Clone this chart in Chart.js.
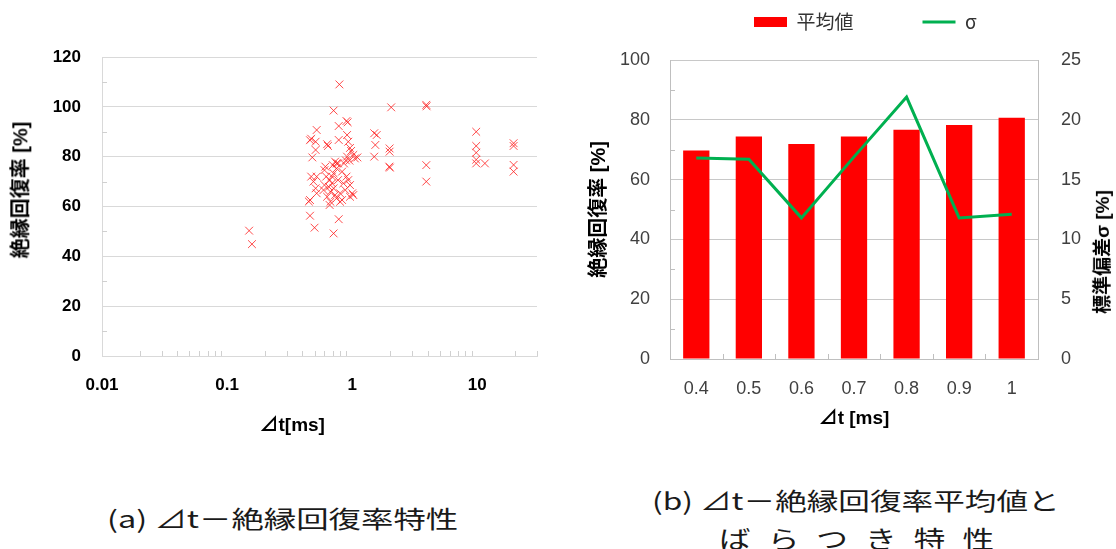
<!DOCTYPE html>
<html><head><meta charset="utf-8">
<script src="https://cdn.jsdelivr.net/npm/chart.js@4.4.1/dist/chart.umd.min.js"></script>
<style>
html,body{margin:0;padding:0;background:#fff;width:1116px;height:549px;overflow:hidden;position:relative}
canvas{position:absolute;top:0}
#cA{left:0}
#cB{left:560px}
.cap{position:absolute;white-space:nowrap;font-family:'Noto Sans CJK JP',sans-serif;font-size:24px;line-height:24px;color:#1a1a1a;transform-origin:0 50%}
.axt{position:absolute;white-space:nowrap;font-family:'Liberation Sans','Noto Sans CJK JP',sans-serif;font-weight:bold;line-height:22px;color:#000;transform-origin:50% 50%}
</style></head><body>
<canvas id="cA" width="560" height="445"></canvas>
<canvas id="cB" width="556" height="445"></canvas>
<div class="axt" id="yATitle" style="font-size:20px">絶縁回復率 [%]</div>
<div class="axt" id="xATitle" style="font-size:19px">⊿t[ms]</div>
<div class="axt" id="y1Title" style="font-size:19px">標準偏差σ [%]</div>
<div class="cap" id="capA">(a) ⊿t－絶縁回復率特性</div>
<div class="cap" id="capB1">(b) ⊿t－絶縁回復率平均値と</div>
<div class="cap" id="capB2">ばらつき特性</div>
<script>
// ---------- data: chart (a) ----------
const scatterX = [0.15,0.158,0.79,0.71,2.05,3.91,3.93,0.90,0.92,0.78,0.52,0.47,0.46,0.51,0.63,0.64,0.78,0.91,0.93,0.51,0.48,0.96,0.98,1.1,0.91,0.89,0.73,0.75,0.70,0.77,0.61,0.60,1.50,1.57,1.53,1.50,1.99,1.99,1.98,2.00,3.91,3.91,0.47,0.52,0.49,0.51,0.52,0.46,0.45,0.46,0.50,0.71,0.78,
  0.62,0.66,0.69,0.65,0.71,0.67,0.73,0.63,0.67,0.75,0.83,0.80,0.88,0.93,0.96,0.90,1.00,1.02,0.96,0.66,0.80,0.85,0.59,0.60,0.77,0.71,0.83,0.75,0.86,0.95,1.02,1.05,0.69,
  9.8,9.8,9.8,9.8,9.8,11.5,19.5,19.5,19.5,19.5];
const scatterY = [50.3,44.9,109,98.5,99.8,100.8,100.2,94.3,93.8,92.3,90.7,87.2,86.6,86,85,84.3,86.7,88.7,86,82.7,79.7,83.5,82.3,79.7,80,78.5,78,77.3,76.6,77.3,76,74.6,89.4,88.7,84.7,80,83.3,82,76,75.6,76.6,70,72,72,70,67.3,65.3,62.6,62,56.3,51.5,49.2,54.9,
  72,70.6,69.3,67.9,67.3,65.9,64.6,63.9,61.9,63.3,62.6,65.3,66.6,70.6,68.6,72,65.3,64.6,63.9,60.6,61.9,69.3,66.6,68.6,70.6,73.3,74,75.3,77.3,78.4,80.7,79.3,72,
  90,84.3,81.6,78.8,77.3,77.3,85.4,84.3,76.7,74];
const xMajorTicks = [0.01, 0.1, 1, 10];
const xTickLabels = ['0.01', '0.1', '1', '10'];
const xMinorTicks = [0.02,0.03,0.04,0.05,0.06,0.07,0.08,0.09,0.2,0.3,0.4,0.5,0.6,0.7,0.8,0.9,2,3,4,5,6,7,8,9,20,30];
const yMinorTicksA = [10,30,50,70,90,110];

// ---------- data: chart (b) ----------
const categories = ['0.4','0.5','0.6','0.7','0.8','0.9','1'];
const meanValues = [69.7,74.4,71.9,74.4,76.7,78.3,80.7];
const sigmaValues = [16.8,16.7,11.8,16.9,21.9,11.8,12.1];
const yMinorTicksB = [10,30,50,70,90];

const CJK = "'Liberation Sans','Noto Sans CJK JP',sans-serif";

// small inward tick marks (axis decoration)
const innerTicks = {
  id: 'innerTicks',
  beforeDatasetsDraw(chart, args, opts) {
    const ctx = chart.ctx, a = chart.chartArea, len = opts.len || 5;
    ctx.save();
    ctx.strokeStyle = opts.color; ctx.lineWidth = 1;
    ctx.beginPath();
    const xs = chart.scales.x;
    (opts.xValues || []).forEach(v => {
      const px = Math.round(xs.getPixelForValue(v)) + 0.5;
      ctx.moveTo(px, a.bottom); ctx.lineTo(px, a.bottom - len);
    });
    if (opts.xBoundaries) {
      for (let i = 0; i < xs.ticks.length - 1; i++) {
        const px = Math.round((xs.getPixelForTick(i) + xs.getPixelForTick(i + 1)) / 2) + 0.5;
        ctx.moveTo(px, a.bottom); ctx.lineTo(px, a.bottom - len);
      }
    }
    const ys = chart.scales.y;
    (opts.yValues || []).forEach(v => {
      const py = Math.round(ys.getPixelForValue(v)) + 0.5;
      ctx.moveTo(a.left, py); ctx.lineTo(a.left + len, py);
    });
    ctx.stroke();
    ctx.restore();
  }
};

// ---------- chart (a) ----------
new Chart(document.getElementById('cA'), {
  type: 'scatter',
  data: {
    datasets: [{
      label: '絶縁回復率',
      data: scatterX.map((x, i) => ({x: x, y: scatterY[i]})),
      pointStyle: 'crossRot',
      pointRadius: 5.5,
      pointHoverRadius: 5.5,
      borderColor: 'rgba(255,30,30,0.8)',
      backgroundColor: 'rgba(255,30,30,0.8)',
      borderWidth: 1
    }]
  },
  plugins: [innerTicks],
  options: {
    responsive: false, animation: false, events: [],
    layout: {padding: {left: 0, top: 57, right: 23, bottom: 0}},
    plugins: {
      legend: {display: false}, tooltip: {enabled: false},
      innerTicks: {color: '#d0d0d0', len: 5, xValues: xMinorTicks, yValues: yMinorTicksA}
    },
    scales: {
      x: {
        type: 'logarithmic', min: 0.01, max: 30,
        afterBuildTicks(scale) {
          scale.ticks = xMajorTicks.concat([30]).map(v => ({value: v}));
        },
        afterFit(scale) { scale.height = 89; },
        grid: {display: true, drawOnChartArea: false, drawTicks: false},
        border: {display: true, color: '#d9d9d9'},
        ticks: {
          autoSkip: false, maxRotation: 0, padding: 19, color: '#000',
          font: {family: CJK, size: 17, weight: 'bold'},
          callback(value) {
            const i = xMajorTicks.findIndex(v => Math.abs(v - value) < 1e-9);
            return i >= 0 ? xTickLabels[i] : '';
          }
        },
        title: {display: false}
      },
      y: {
        min: 0, max: 120,
        afterFit(scale) { scale.width = 102; },
        grid: {color: '#d9d9d9', drawTicks: false},
        border: {display: true, color: '#d9d9d9'},
        ticks: {stepSize: 20, padding: 21, color: '#000', font: {family: CJK, size: 17, weight: 'bold'}},
        title: {display: false}
      }
    }
  }
});

// ---------- chart (b) ----------
const legendPlacer = {
  id: 'legendPlacer',
  afterLayout(chart) {
    const lg = chart.legend;
    const P = 69, fs = 19;
    lg.top = 22 - fs / 2 - P;
    lg.bottom = 60;
    lg.left = 194 - P;
    lg.right = 556;
  }
};

new Chart(document.getElementById('cB'), {
  type: 'bar',
  data: {
    labels: categories,
    datasets: [
      {
        type: 'line', label: 'σ', data: sigmaValues, yAxisID: 'y1',
        borderColor: '#00b050', backgroundColor: '#00b050', borderWidth: 3,
        pointRadius: 0, tension: 0, order: 1
      },
      {
        type: 'bar', label: '平均値', data: meanValues, yAxisID: 'y',
        backgroundColor: '#ff0000', barPercentage: 0.5, categoryPercentage: 1.0, order: 2
      }
    ]
  },
  plugins: [innerTicks, legendPlacer],
  options: {
    responsive: false, animation: false, events: [],
    layout: {padding: 0},
    plugins: {
      tooltip: {enabled: false},
      innerTicks: {color: '#bfbfbf', len: 5, xBoundaries: true, yValues: yMinorTicksB},
      legend: {
        display: true, position: 'top', align: 'start', maxHeight: 60,
        labels: {
          usePointStyle: true, pointStyleWidth: 33, boxHeight: 10, padding: 69,
          color: '#333', font: {family: "'Noto Sans CJK JP','Liberation Sans',sans-serif", size: 19},
          generateLabels(chart) {
            const items = Chart.defaults.plugins.legend.labels.generateLabels(chart);
            items.sort((a, b) => (a.text === '平均値' ? -1 : 1));
            items.forEach(it => {
              if (it.text === '平均値') { it.pointStyle = 'rect'; it.lineWidth = 0; it.fillStyle = '#ff0000'; it.strokeStyle = '#ff0000'; }
              else { it.pointStyle = 'line'; it.lineWidth = 3; it.strokeStyle = '#00b050'; it.fillStyle = '#00b050'; }
            });
            return items;
          }
        }
      }
    },
    scales: {
      x: {
        afterFit(scale) { scale.height = 86; },
        grid: {display: true, drawOnChartArea: false, drawTicks: false},
        border: {display: true, color: '#bfbfbf'},
        ticks: {padding: 19, color: '#404040', font: {family: CJK, size: 18}},
        title: {display: true, text: '⊿t [ms]', color: '#000', font: {family: CJK, size: 19, weight: 'bold'}, padding: {top: 0, bottom: 15}}
      },
      y: {
        position: 'left', min: 0, max: 100,
        afterFit(scale) { scale.width = 110; },
        grid: {color: '#c8c8c8', drawTicks: false},
        border: {display: true, color: '#bfbfbf'},
        ticks: {stepSize: 20, padding: 20, color: '#404040', font: {family: CJK, size: 18}},
        title: {display: true, text: '絶縁回復率 [%]', color: '#000', font: {family: CJK, size: 20, weight: 'bold'}, padding: {top: 27, bottom: 0}}
      },
      y1: {
        position: 'right', min: 0, max: 25,
        afterFit(scale) { scale.width = 78; },
        grid: {drawOnChartArea: false, drawTicks: false},
        border: {display: true, color: '#bfbfbf'},
        ticks: {stepSize: 5, padding: 23, color: '#404040', font: {family: CJK, size: 18}},
        title: {display: false}
      }
    }
  }
});

// axis titles placed where the reference has them
function placeTitle(id, cx, cy, rot) {
  const el = document.getElementById(id);
  const w = el.offsetWidth, h = el.offsetHeight;
  el.style.left = (cx - w / 2) + 'px';
  el.style.top = (cy - h / 2) + 'px';
  if (rot) el.style.transform = 'rotate(' + rot + 'deg)';
}
placeTitle('yATitle', 20, 190, -90);
placeTitle('xATitle', 292, 425, 0);
placeTitle('y1Title', 1103, 252, -90);

// ---------- captions ----------
function placeCaption(id, cx, cy, targetW, scaleOverride) {
  const el = document.getElementById(id);
  const w = el.offsetWidth, h = el.offsetHeight;
  let s = scaleOverride || targetW / w;
  if (scaleOverride) {
    const gaps = el.textContent.length - 1;
    const ls = (targetW / s - w) / gaps;
    el.style.letterSpacing = ls + 'px';
  }
  el.style.transform = 'scaleX(' + s + ')';
  el.style.left = (cx - targetW / 2) + 'px';
  el.style.top = (cy - h / 2) + 'px';
  return s;
}
const sA = placeCaption('capA', 282, 518, 351);
const sB = placeCaption('capB1', 855, 500, 407);
placeCaption('capB2', 856, 538, 275, sB);
</script>
</body></html>
